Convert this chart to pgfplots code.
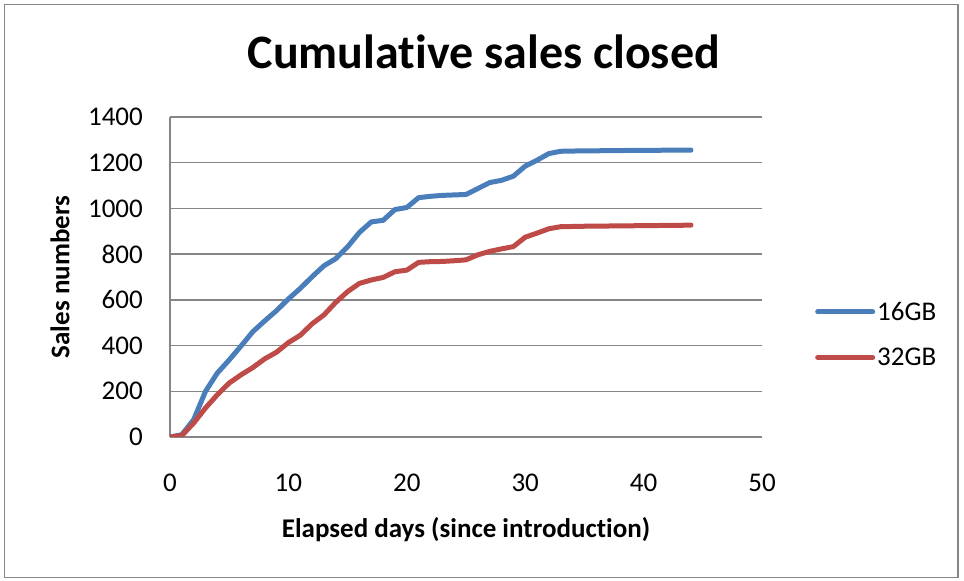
\documentclass[border=0pt]{standalone}
\usepackage{fontspec}
\setmainfont{Carlito}[Ligatures=NoCommon]
\usepackage{pgfplots}
\pgfplotsset{compat=1.18}
\definecolor{s16}{HTML}{4A7EBB}
\definecolor{s32}{HTML}{BE4B48}
\definecolor{gridc}{HTML}{868686}
\begin{document}
\begin{tikzpicture}[x=1bp,y=1bp]
\path[use as bounding box] (0,0) rectangle (964,581);
\draw[gridc, line width=1.5bp] (4.5,3.5) rectangle (958,576.5);
\begin{axis}[
  at={(170bp,144bp)}, anchor=south west,
  scale only axis, width=592bp, height=320bp,
  xmin=0, xmax=50, ymin=0, ymax=1400,
  xtick={0,10,...,50}, ytick={0,200,...,1400},
  axis lines=left, axis line style={-, gridc, line width=1.5bp},
  ymajorgrids, grid style={gridc, line width=1.5bp},
  major tick length=0pt,
  ticklabel style={font=\fontsize{27bp}{32bp}\selectfont, inner sep=0pt},
  /pgf/number format/assume math mode=true,
  /pgf/number format/1000 sep={},
  yticklabel style={anchor=east, xshift=-27bp},
  xticklabel style={anchor=north, yshift=-37bp},
  xlabel={Elapsed days (since introduction)},
  ylabel={Sales numbers},
  xlabel style={font=\bfseries\fontsize{27bp}{32bp}\selectfont, at={(axis description cs:0.5,-0.2906)}, anchor=center},
  ylabel style={font=\bfseries\fontsize{27bp}{32bp}\selectfont, at={(axis description cs:-0.1858,0.5)}, anchor=center},
  title={Cumulative sales closed},
  title style={font=\bfseries\fontsize{48bp}{56bp}\selectfont, at={(axis description cs:0.530,1.185)}, anchor=center},
  legend style={at={(axis description cs:1.0895,0.3203)}, anchor=west, draw=none, fill=none,
    font=\fontsize{27bp}{32bp}\selectfont, row sep=22bp, inner sep=0pt},
  legend cell align=left,
  legend image code/.code={\draw[#1, line cap=round] (0bp,0bp) -- (55bp,0bp);},
  every axis plot/.append style={line width=5bp, line join=round, line cap=round},
]
\addplot[s16] coordinates {
(0,0) (1,10) (2,76) (3,200) (4,280) (5,337) (6,398) (7,461) (8,508) (9,553)
(10,604) (11,650) (12,701) (13,749) (14,780) (15,832) (16,895) (17,941) (18,948) (19,995)
(20,1004) (21,1047) (22,1053) (23,1057) (24,1059) (25,1061) (26,1087) (27,1113) (28,1123) (29,1141)
(30,1185) (31,1211) (32,1240) (33,1250) (34,1251) (35,1252) (36,1252) (37,1253) (38,1253) (39,1254)
(40,1254) (41,1254) (42,1255) (43,1255) (44,1255)};
\addlegendentry{16GB}
\addplot[s32] coordinates {
(0,0) (1,6) (2,61) (3,127) (4,185) (5,236) (6,272) (7,304) (8,342) (9,371)
(10,413) (11,445) (12,495) (13,534) (14,589) (15,636) (16,672) (17,687) (18,698) (19,723)
(20,730) (21,764) (22,767) (23,768) (24,771) (25,775) (26,797) (27,812) (28,823) (29,833)
(30,874) (31,892) (32,911) (33,920) (34,921) (35,922) (36,923) (37,923) (38,924) (39,924)
(40,925) (41,925) (42,926) (43,926) (44,927)};
\addlegendentry{32GB}
\end{axis}
\end{tikzpicture}
\end{document}
